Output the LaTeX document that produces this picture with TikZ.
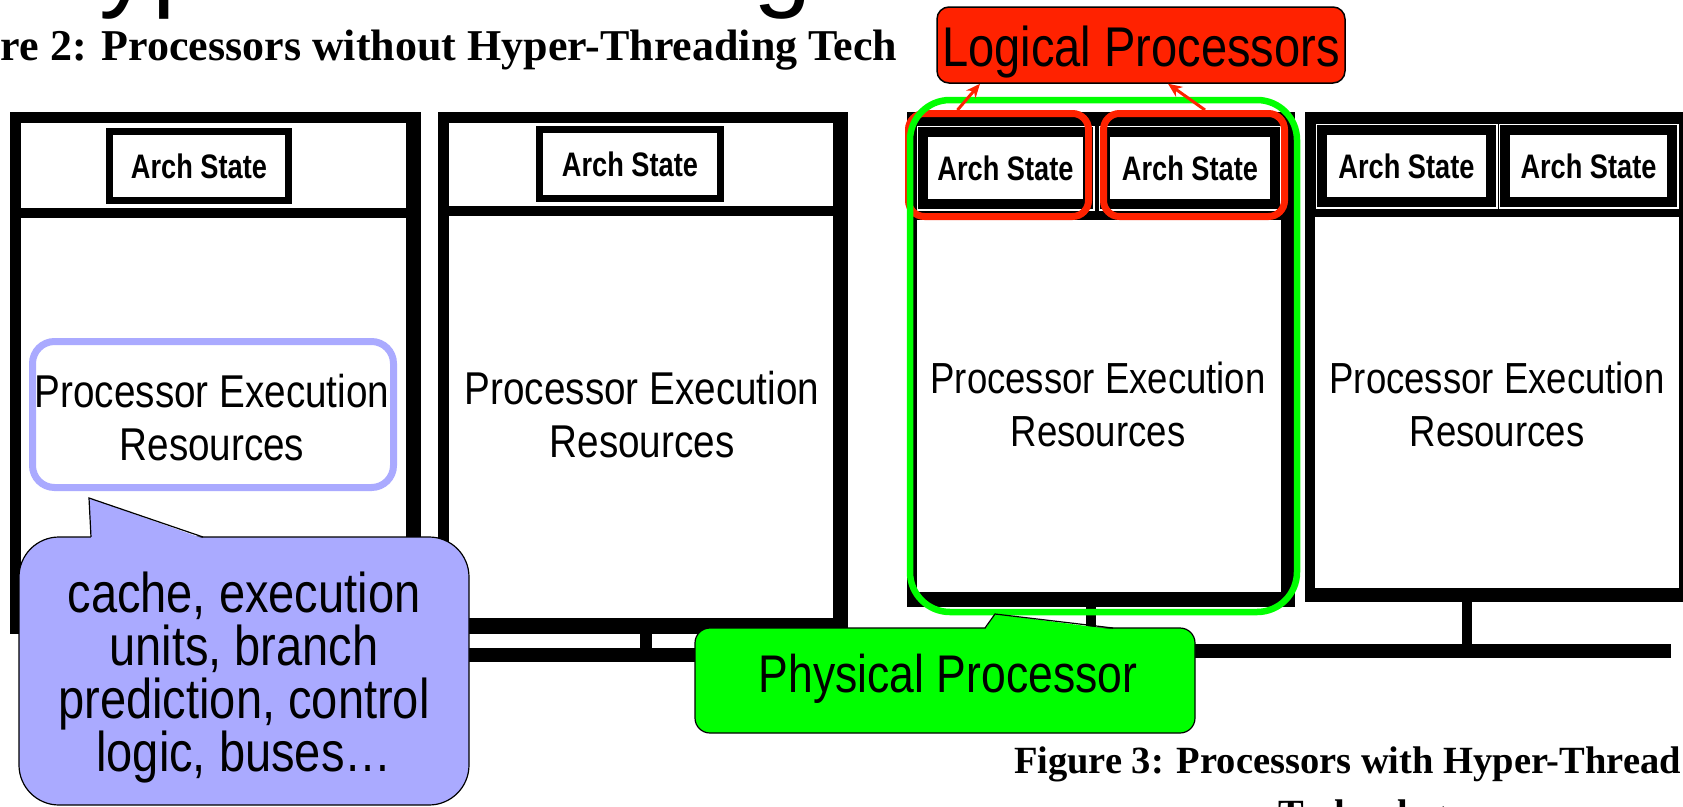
\documentclass[tikz,border=0pt]{standalone}
\usepackage{fontspec}
\usetikzlibrary{arrows.meta}
\newfontfamily\nsans{Liberation Sans}[FakeStretch=0.84]
\newfontfamily\archf{Liberation Sans}[FakeStretch=0.8]
\newfontfamily\tsans{Liberation Sans}
\newfontfamily\tserif{Liberation Serif}
\definecolor{lpRed}{RGB}{255,34,0}
\definecolor{ppGreen}{RGB}{0,255,0}
\definecolor{cbBlue}{RGB}{170,170,255}
\begin{document}
\begin{tikzpicture}[x=1pt,y=-1pt,
  txt/.style={inner sep=0pt,outer sep=0pt},
  archtwo/.style={draw=black,line width=7pt,fill=white,inner sep=0pt,
    font=\archf\bfseries\fontsize{34}{36}\selectfont},
  archthree/.style={draw=black,line width=10pt,fill=white,inner sep=0pt,
    preaction={draw=white,line width=13pt},
    font=\archf\bfseries\fontsize{34}{36}\selectfont},
  petext/.style={txt,align=center,font=\nsans\fontsize{46}{53}\selectfont},
  petextb/.style={txt,align=center,font=\nsans\fontsize{43.5}{53}\selectfont},
  bluebox/.style={draw=cbBlue,line width=7pt,rounded corners=22pt},
  logicbox/.style={draw=lpRed,line width=7pt,rounded corners=16pt},
  physbox/.style={draw=ppGreen,line width=6.5pt,rounded corners=40pt},
  lpbox/.style={fill=lpRed,draw=black,line width=1.5pt,rounded corners=12pt},
  redarrow/.style={draw=lpRed,line width=3pt,-{Stealth[length=14pt,width=12pt]}},
  bcall/.style={fill=cbBlue,draw=black,line width=1.2pt,rounded corners=40pt},
  gcall/.style={fill=ppGreen,draw=black,line width=1.2pt,rounded corners=15pt},
  calltext/.style={txt,align=center,font=\nsans\fontsize{56}{53}\selectfont},
  capfont/.style={txt,font=\tserif\bfseries\fontsize{#1}{#1}\selectfont}
]
\useasboundingbox (0,0) rectangle (1683,806);
\clip (0,0) rectangle (1683,806);
\fill[white] (0,0) rectangle (1683,806);

% title (cut off) and captions
\node[txt,anchor=base west,font=\tsans\fontsize{105}{110}\selectfont] (title) at (24,-3) {Hyper-Threading};
\node[capfont=44,anchor=base west] (cap2) at (1,60) {re 2: Processors without Hyper-Threading Tech};
\node[capfont=38.5,anchor=base west] (cap3) at (1014,773) {Figure 3: Processors with Hyper-Thread};
\node[capfont=38.5,anchor=base] (cap3b) at (1372,826) {Technology};

% ---------- Figure 2 processors ----------
\fill[black] (10,112) rectangle (421,634);
\fill[white] (21,123) rectangle (406,208);
\fill[white] (21,218) rectangle (406,618);
\node[archtwo,minimum width=179pt,minimum height=69pt] (asA) at (199,166) {Arch State};
\node[petext] (peA) at (212,418) {Processor Execution\\Resources};

\fill[black] (438,112) rectangle (848,634);
\fill[white] (449,123) rectangle (833,206);
\fill[white] (449,216) rectangle (833,618);
\node[archtwo,minimum width=181pt,minimum height=69pt] (asB) at (630,164) {Arch State};
\node[petext] (peB) at (642,415) {Processor Execution\\Resources};

% bus figure 2
\fill[black] (200,634) rectangle (212,648);
\fill[black] (640,634) rectangle (652,648);
\fill[black] (40,648) rectangle (880,662);

% ---------- Figure 3 processors ----------
\fill[black] (907,112) rectangle (1295,607);
\fill[white] (917,220) rectangle (1281,592);
\node[archthree,minimum width=165pt,minimum height=72pt] (asC1) at (1005.5,168) {Arch State};
\node[archthree,minimum width=170pt,minimum height=72pt] (asC2) at (1190,168) {Arch State};
\node[petextb] (peC) at (1098,404) {Processor Execution\\Resources};

\fill[black] (1305,112) rectangle (1700,602);
\fill[white] (1315,217) rectangle (1679,588);
\node[archthree,minimum width=169pt,minimum height=72pt] (asD1) at (1406.5,166) {Arch State};
\node[archthree,minimum width=167pt,minimum height=72pt] (asD2) at (1588.5,166) {Arch State};
\node[petextb] (peD) at (1497,404) {Processor Execution\\Resources};

% bus figure 3
\fill[black] (1086,607) rectangle (1096,644);
\fill[black] (1462,602) rectangle (1472,644);
\fill[black] (900,644) rectangle (1671,658);

% ---------- highlights ----------
\node[bluebox,minimum width=361pt,minimum height=146pt] (resA) at (213,414.5) {};
\node[logicbox,minimum width=180pt,minimum height=103pt] (lp1) at (998.5,165) {};
\node[logicbox,minimum width=181pt,minimum height=103pt] (lp2) at (1194,165) {};
\node[physbox,minimum width=387pt,minimum height=512pt] (phys) at (1103.5,356) {};

\node[lpbox,minimum width=408pt,minimum height=76pt] (logical) at (1141,45) {};
\node[txt,anchor=base,font=\nsans\fontsize{56}{60}\selectfont] (logicaltext) at (1141,66) {Logical Processors};
\draw[redarrow] ([xshift=-41pt]lp1.north) -- ([xshift=-161pt]logical.south);
\draw[redarrow] ([xshift=11pt]lp2.north) -- ([xshift=27pt]logical.south);

% ---------- callouts ----------
\node[bcall,minimum width=450pt,minimum height=268pt] (cb) at (244,671) {};
\fill[cbBlue] (91,538.5) -- (89,498) -- (203,538.5) -- cycle;
\draw[black,line width=1.2pt] (91,537) -- (89,498) -- (203,537);
\node[calltext] (cbtext) at (244,678) {cache, execution\\units, branch\\prediction, control\\logic, buses…};

\node[gcall,minimum width=500pt,minimum height=105pt] (pc) at (945,680.5) {};
\fill[ppGreen] (985,629.5) -- (995,614) -- (1113,629.5) -- cycle;
\draw[black,line width=1.2pt] (985,628) -- (995,614) -- (1113,628);
\node[txt,anchor=base,font=\nsans\fontsize{53}{57}\selectfont] (pctext) at (948,692) {Physical Processor};
\end{tikzpicture}
\end{document}
